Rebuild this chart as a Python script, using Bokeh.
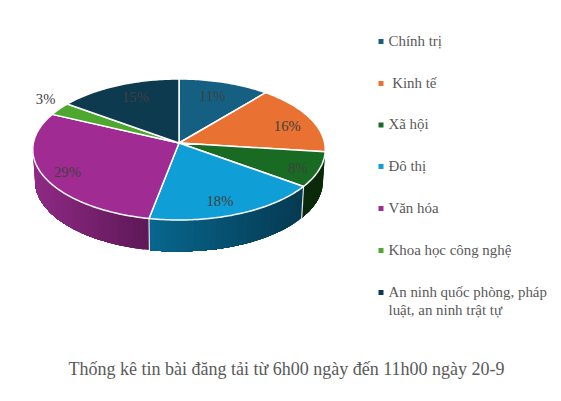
import numpy as np
from bokeh.embed import file_html
from bokeh.models import Range1d
from bokeh.plotting import figure
from bokeh.resources import INLINE
from bokeh.core.properties import value

categories = ["Chính trị", "\u00a0Kinh tế", "Xã hội", "Đô thị", "Văn hóa", "Khoa học công nghệ", "An ninh quốc phòng, pháp"]
legend_extra = "luật, an ninh trật tự"
shares = [11, 16, 8, 18, 29, 3, 15]
colors = ["#156082", "#E97132", "#196B24", "#0F9ED5", "#A02B93", "#4EA72E", "#0D3A4F"]
title = "Thống kê tin bài đăng tải từ 6h00 ngày đến 11h00 ngày 20-9"
label_r = [0.72, 0.83, 0.88, 0.75, 0.83, 1.2, 0.73]
label_dx = [0, -1, -4, -2, 0, 9, 2]
label_dy = [-2, 4, 2, 6, 2, -4, -3]

CX, CY, RX, RY, K = 178.5, 142.5, 145.6, 69.9, 0.0922
DEPTH, RIM = 31.5, 0.985
FONT = value("Liberation Serif")

wall_left = {2: "#0A2A0B", 3: "#07688F", 4: "#8F2A85"}
wall_right = {2: "#0A2A0B", 3: "#063A52", 4: "#5F1858"}
WALL_START, WALL_END = 97.2, 275.0


def project(theta, r=1.0):
    u, v = r * np.sin(np.radians(theta)), -r * np.cos(np.radians(theta))
    d = 1 - K * v
    return CX + RX * u / d, CY + RY * v / d


def rgb(h):
    return np.array([int(h[i:i + 2], 16) for i in (1, 3, 5)], dtype=float)


p = figure(width=553, height=393, output_backend="svg", toolbar_location=None,
           x_range=Range1d(0, 553), y_range=Range1d(393, 0), min_border=0,
           x_axis_location=None, y_axis_location=None,
           outline_line_color=None, border_fill_color="white", background_fill_color="white")
p.grid.visible = False

edges = np.cumsum([0] + shares) * 3.6

# side wall: shaded by painting successive bands over the rest of the slice
for i in (4, 3, 2):
    a0, a1 = max(edges[i], WALL_START), min(edges[i + 1], WALL_END)
    n = max(2, int((a1 - a0) / 2))
    ticks = np.linspace(a0, a1, n + 1)
    x_all, _ = project(ticks)
    lo, hi = x_all.min(), x_all.max()
    for j in range(n):
        ts = ticks[j:]
        xt, yt = project(ts)
        xb = CX + (xt - CX) * RIM
        yb = yt + DEPTH
        f = (xt[0] - lo) / (hi - lo)
        c = rgb(wall_left[i]) * (1 - f) + rgb(wall_right[i]) * f
        col = "#%02x%02x%02x" % tuple(int(round(q)) for q in c)
        p.patch(list(xt) + list(xb[::-1]), list(yt) + list(yb[::-1]),
                fill_color=col, line_color=None)

# wall dividers
for a in (edges[3], edges[4]):
    xt, yt = project(np.array([a]))
    xb = CX + (xt - CX) * RIM
    p.line([xt[0], xb[0]], [yt[0], yt[0] + DEPTH], line_color="#dfe6ea", line_width=1.2)

# top faces
for i, s in enumerate(shares):
    t = np.linspace(edges[i], edges[i + 1], max(3, int(s * 3.6)))
    x, y = project(t)
    p.patch([CX] + list(x), [CY] + list(y), fill_color=colors[i],
            line_color="white", line_width=1.5, line_join="round")

# percentage labels
mids = (edges[:-1] + edges[1:]) / 2
lx, ly = zip(*[project(m, r) for m, r in zip(mids, label_r)])
p.text([a + b for a, b in zip(lx, label_dx)], [a + b for a, b in zip(ly, label_dy)],
       text=[f"{s}%" for s in shares], text_font=FONT,
       text_font_size="14.67px", text_color="#404040", text_align="center", text_baseline="middle")

# legend
ky = [41, 83, 124.5, 166, 208, 250, 292]
p.scatter([380.5] * 7, ky, marker="square", size=5, fill_color=colors, line_color=None)
p.text([388] * 7, [k - 1 for k in ky], text=categories, text_font=FONT, text_font_size="14.9px",
       text_color="#595959", text_align="left", text_baseline="middle")
p.text([388], [309.5], text=[legend_extra], text_font=FONT, text_font_size="14.9px",
       text_color="#595959", text_align="left", text_baseline="middle")

# title
p.text([286], [368], text=[title], text_font=FONT, text_font_size="18px",
       text_color="#595959", text_align="center", text_baseline="middle")

open("out.html", "w").write(file_html(p, INLINE))
